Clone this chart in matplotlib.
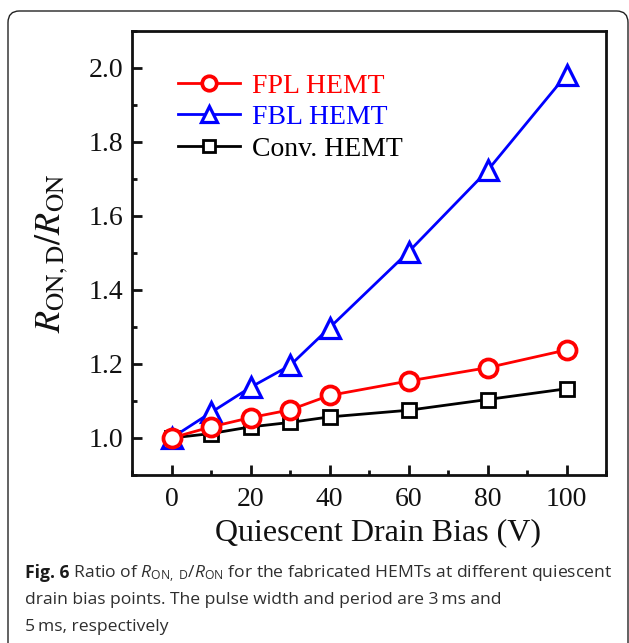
import matplotlib.pyplot as plt
from matplotlib.patches import FancyBboxPatch
from matplotlib.ticker import MultipleLocator

# values
bias = [0, 10, 20, 30, 40, 60, 80, 100]
fpl = [1.0, 1.03, 1.055, 1.076, 1.115, 1.154, 1.19, 1.238]
fbl = [1.0, 1.069, 1.137, 1.196, 1.298, 1.503, 1.723, 1.982]
conv = [1.0, 1.012, 1.03, 1.042, 1.057, 1.075, 1.104, 1.133]

labels = ['FPL HEMT', 'FBL HEMT', 'Conv. HEMT']
fig_no = 'Fig. 6'
caption = [
    r' Ratio of $\mathit{R}_{\mathrm{ON,\ D}}$/$\mathit{R}_{\mathrm{ON}}$'
    r' for the fabricated HEMTs at different quiescent',
    'drain bias points. The pulse width and period are 3\u2009ms and',
    '5\u2009ms, respectively',
]

plt.rcParams['font.family'] = ['Liberation Serif', 'DejaVu Serif']
plt.rcParams['mathtext.fontset'] = 'custom'
plt.rcParams['mathtext.rm'] = 'Open Sans'
plt.rcParams['mathtext.it'] = 'Open Sans:italic'
plt.rcParams['mathtext.bf'] = 'Open Sans:bold'

fig = plt.figure(figsize=(6.29, 6.43), dpi=100)
ax = fig.add_axes([0.2099, 0.2613, 0.7536, 0.6905])

l_conv, = ax.plot(bias, conv, '-s', color='black', lw=2.0, ms=10, mew=2.0,
                  mfc='white', mec='black')
l_fbl, = ax.plot(bias, fbl, '-^', color='#0000ff', lw=2.0, ms=15, mew=2.3,
                 mfc='white', mec='#0000ff')
l_fpl, = ax.plot(bias, fpl, '-o', color='#ff0000', lw=2.0, ms=13, mew=2.7,
                 mfc='white', mec='#ff0000')

ax.set_xlim(-10, 110)
ax.set_ylim(0.9, 2.1)
ax.xaxis.set_major_locator(MultipleLocator(20))
ax.xaxis.set_minor_locator(MultipleLocator(10))
ax.yaxis.set_major_locator(MultipleLocator(0.2))
ax.yaxis.set_minor_locator(MultipleLocator(0.1))
ax.set_yticks([1.0, 1.2, 1.4, 1.6, 1.8, 2.0])
ax.tick_params(which='both', direction='in', width=2.0, colors='#111111',
               top=False, right=False)
ax.tick_params(which='major', length=7, labelsize=20)
ax.tick_params(which='minor', length=3.5)
ax.tick_params(axis='x', pad=9)
ax.tick_params(axis='y', pad=6)
for sp in ax.spines.values():
    sp.set_linewidth(2.0)
    sp.set_color('#111111')

ax.set_xlabel('Quiescent Drain Bias (V)', fontsize=23, color='#111111', va='center')
ax.xaxis.set_label_coords(0.519, -0.131)
ax.set_ylabel(r'$R_{\mathrm{ON,D}}/R_{\mathrm{ON}}$', fontsize=26, color='#111111',
              va='center', math_fontfamily='stix')
ax.yaxis.set_label_coords(-0.169, 0.5)

ax.legend([l_fpl, l_fbl, l_conv], labels, loc='upper left',
          bbox_to_anchor=(0.097, 0.905), frameon=False, fontsize=20,
          labelcolor='linecolor', handlelength=2.23, handletextpad=0.45,
          labelspacing=0.22, borderaxespad=0, borderpad=0, markerscale=0.8)

# rounded frame round figure and caption
box = FancyBboxPatch((8 / 629, -0.05), 620 / 629, 1.05 - 11 / 643,
                     boxstyle='round,pad=0,rounding_size=0.018',
                     transform=fig.transFigure, fill=False,
                     edgecolor='#222222', linewidth=1.0)
fig.add_artist(box)

x0 = 25 / 629
t_fig = fig.text(x0, 1 - 578 / 643, fig_no, family='Open Sans', weight='bold',
                 fontsize=12.6, color='#1a1a1a', va='baseline', ha='left')
renderer = fig.canvas.get_renderer()
x_after = fig.transFigure.inverted().transform(
    (t_fig.get_window_extent(renderer).x1, 0))[0]

for i, line in enumerate(caption):
    x = x_after if i == 0 else x0
    fig.text(x, 1 - (578 + 26.5 * i) / 643, line, family='Open Sans',
             fontsize=12.6, color='#2e2e2e', va='baseline', ha='left')

fig.savefig('out.png', dpi=100)
